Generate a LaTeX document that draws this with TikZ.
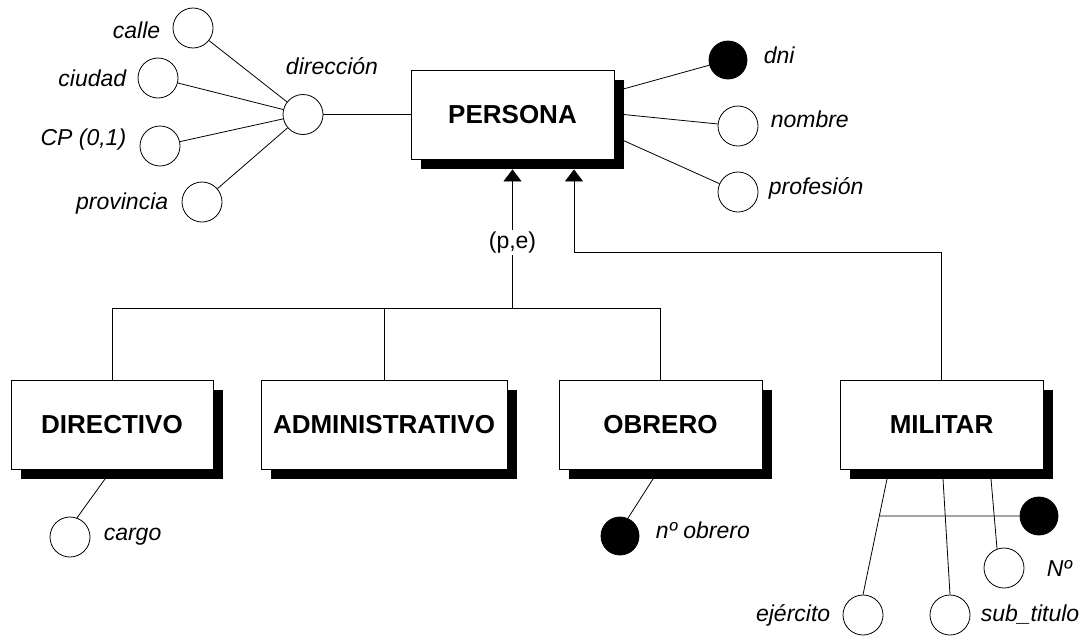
\documentclass[tikz,border=0pt]{standalone}
\usepackage{fontspec}
\setmainfont{Liberation Sans}
\usetikzlibrary{arrows.meta,shadows,calc}

\begin{document}
\begin{tikzpicture}[x=1pt,y=1pt,line width=0.8pt,
    ent/.style={draw,fill=white,minimum width=203pt,minimum height=89pt,
      font=\bfseries\fontsize{26}{30}\selectfont,
      drop shadow={shadow xshift=9.5pt,shadow yshift=-10pt,fill=black,opacity=1}},
    att/.style={circle,draw,fill=white,minimum size=40pt,inner sep=0pt},
    keyatt/.style={att,fill=black,minimum size=38pt},
    isa/.style={-{Triangle[length=12pt,width=18pt]}},
    every label/.style={font=\itshape\fontsize{23}{27}\selectfont,inner sep=0pt}]
  \useasboundingbox (0,0) rectangle (1086,-635);
  % entities
  \node[ent] (persona) at (512.5,-114.5) {PERSONA};
  \node[ent,minimum width=202pt] (directivo) at (112,-424.5) {DIRECTIVO};
  \node[ent,minimum width=246pt] (admin) at (384,-424.5) {ADMINISTRATIVO};
  \node[ent] (obrero) at (660.5,-424.5) {OBRERO};
  \node[ent] (militar) at (941.5,-424.5) {MILITAR};
  % attributes
  \node[att,label={[label distance=12pt,yshift=-2pt]left:calle}] (calle) at (193,-28) {};
  \node[att,label={[label distance=11pt]left:ciudad}] (ciudad) at (158,-78) {};
  \node[att,label={[label distance=13pt,yshift=6pt]left:CP (0,1)}] (cp) at (160,-146) {};
  \node[att,label={[label distance=13pt,yshift=-2pt]left:provincia}] (provincia) at (202,-202) {};
  \node[att,label={[label distance=19pt,xshift=29pt]above:dirección}] (direccion) at (303,-114.5) {};
  \node[keyatt,label={[label distance=16pt,yshift=5pt]right:dni}] (dni) at (728,-60) {};
  \node[att,label={[label distance=12pt,yshift=7pt]right:nombre}] (nombre) at (738,-126) {};
  \node[att,label={[label distance=10pt,yshift=4pt]right:profesión}] (profesion) at (738,-192) {};
  \node[att,label={[label distance=13pt]right:cargo}] (cargo) at (70,-537) {};
  \node[keyatt,label={[label distance=16pt,yshift=6pt]right:nº obrero}] (nobrero) at (620,-536) {};
  \node[att,label={[label distance=12pt]left:ejército}] (ejercito) at (863,-615) {};
  \node[att,label={[label distance=10pt]right:sub\_titulo}] (subtitulo) at (950,-615) {};
  \node[att,label={[label distance=22pt]right:Nº}] (nmil) at (1004,-568) {};
  \node[keyatt] (milkey) at (1039,-516) {};

  \draw (calle) -- (direccion);
  \draw (ciudad) -- (direccion);
  \draw (cp) -- (direccion);
  \draw (provincia) -- (direccion);
  \draw (direccion) -- (persona);
  \draw ([xshift=9pt,yshift=25.5pt]persona.east) -- (dni);
  \draw ([xshift=9pt]persona.east) -- (nombre);
  \draw ([xshift=9pt,yshift=-26pt]persona.east) -- (profesion);

  % generalisation
  \coordinate (pe) at ($(persona.south |- directivo.north)+(0,71)$);
  \coordinate (pm) at ($(persona.south)+(61.5,-10)$);
  \draw (directivo.north) -- ++(0,71) -| (obrero.north);
  \draw (admin.north) -- ++(0,71);
  \draw[isa] (pe) -- node[pos=.475,fill=white,inner sep=2pt,
    font=\fontsize{23}{27}\selectfont]{(p,e)} ($(persona.south)+(0,-10)$);
  \draw[isa] (militar.north) |- ($(pm)+(0,-82.5)$) -- (pm);

  \draw ($(directivo.south)+(-7,-9.6)$) -- (cargo.70);
  \draw ($(obrero.south)+(-7.5,-9.6)$) -- (nobrero.66);
  \draw ($(militar.south)+(-54.5,-9.6)$) -- coordinate[pos=.32] (mj) (ejercito.north);
  \draw ($(militar.south)+(1.5,-9.6)$) -- (subtitulo.north);
  \draw ($(militar.south)+(49.5,-9.6)$) -- (nmil.110);
  \draw (mj) -- (milkey);
\end{tikzpicture}
\end{document}
